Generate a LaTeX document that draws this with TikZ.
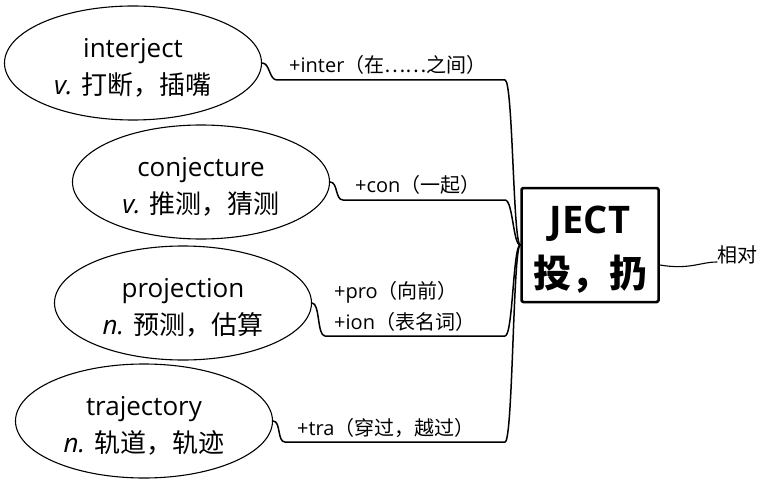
\documentclass[tikz,border=0pt]{standalone}
\usepackage{fontspec}
\setmainfont{Open Sans}
\newfontfamily\cjk{Noto Sans CJK SC}
\usetikzlibrary{shapes.geometric}
\newcommand{\lowtext}[1]{\raisebox{-5pt}[\height][\depth]{#1}}

\begin{document}
\begin{tikzpicture}[x=1pt, y=-1pt, line join=round, line cap=round,
	word/.style={draw, ellipse, line width=1.1pt, minimum width=257pt, minimum height=114pt, inner sep=0pt, align=center, font=\fontsize{26}{37}\selectfont},
	root/.style={draw, line width=2.5pt, rounded corners=1.5pt, minimum width=137pt, minimum height=114pt, align=center, font=\fontsize{38}{54}\selectfont\bfseries},
	part/.style={anchor=base west, inner sep=0pt, font=\fontsize{20}{24}\selectfont},
	link/.style={line width=1.5pt}]
	\useasboundingbox (0,0) rectangle (762,481);
	\node[word] (inter) at (133,63) {\lowtext{interject}\\\lowtext{{\itshape v.} {\cjk 打断，插嘴}}};
	\node[word] (con) at (201,182) {\lowtext{conjecture}\\\lowtext{{\itshape v.} {\cjk 推测，猜测}}};
	\node[word] (pro) at (183,303) {\lowtext{projection}\\\lowtext{{\itshape n.} {\cjk 预测，估算}}};
	\node[word] (tra) at (144,421) {\lowtext{trajectory}\\\lowtext{{\itshape n.} {\cjk 轨道，轨迹}}};
	\node[root] (ject) at (590,245) {\lowtext{JECT}\\\lowtext{\cjk 投，扔}};
	% affixes
	\node[part] (inter-t) at (289,73) {+inter{\cjk （在……之间）}};
	\node[part] (con-t) at (355,193) {+con{\cjk （一起）}};
	\node[part] (pro-t) at (334,298) {+pro{\cjk （向前）}};
	\node[part] (ion-t) at (334,329) {+ion{\cjk （表名词）}};
	\node[part] (tra-t) at (297,435) {+tra{\cjk （穿过，越过）}};
	\node[part] (rel) at (717,262) {\cjk 相对};
	\foreach \w/\xa/\ya in {inter/277/80, con/343/200, pro/325/336, tra/285/442}{
		\coordinate (\w-a) at (\xa,\ya);
		\coordinate (\w-b) at (505,\ya);
		\draw[link] (\w.east) .. controls +(8,0) and +(-8,0) .. (\w-a) -- (\w-b)
			.. controls +(8,0) and (513,245) .. (ject.west);
	}
	\draw[link, line width=1.1pt] (ject.-16) .. controls (690,270) and (700,262) .. (rel.base west);
\end{tikzpicture}
\end{document}
